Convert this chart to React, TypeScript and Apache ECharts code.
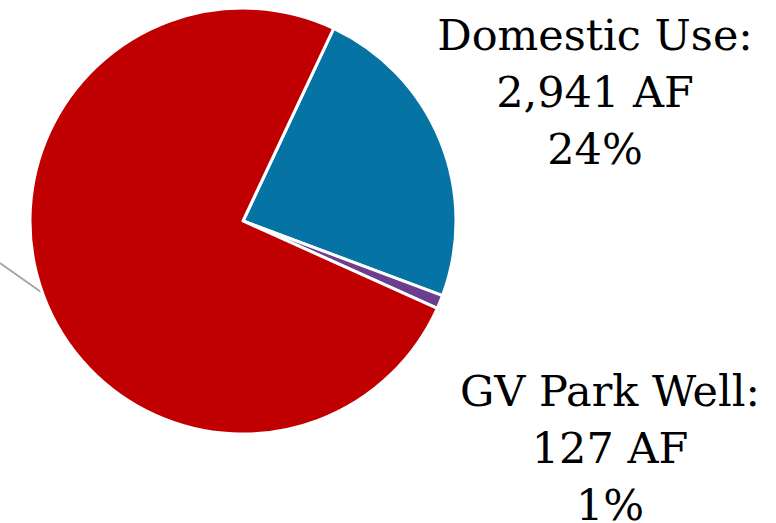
import React, { useEffect, useRef } from "react";
import * as echarts from "echarts";

const categories = ["Domestic Use", "GV Park Well", "Other"];
const values = [2941, 127, 9344];
const colors = ["#0673A5", "#6B3E8F", "#C00000"];
const labelCenters = [
  [595, 92],
  [610, 448],
  null,
];

export default function App() {
  const ref = useRef<HTMLDivElement>(null);
  useEffect(() => {
    document.body.style.margin = "0";
    const chart = echarts.init(ref.current!, null, { renderer: "svg" });
    chart.setOption({
      animation: false,
      backgroundColor: "#ffffff",
      graphic: [
        {
          type: "line",
          shape: { x1: 0, y1: 263, x2: 41, y2: 292 },
          style: { stroke: "#A6A6A6", lineWidth: 2 },
        },
      ],
      series: [
        {
          type: "pie",
          center: [243, 221],
          radius: [0, 213],
          startAngle: 64.8,
          clockwise: true,
          itemStyle: { borderColor: "#ffffff", borderWidth: 3 },
          label: {
            show: true,
            position: "inside",
            overflow: "none",
            fontFamily: "DejaVu Serif",
            fontSize: 43,
            lineHeight: 57,
            color: "#000000",
            align: "center",
            formatter: (p: any) =>
              `${p.name}:\n${p.value.toLocaleString("en-US")} AF\n${Math.round(p.percent)}%`,
          },
          labelLine: { show: false },
          labelLayout: (p: any) => {
            const c = labelCenters[p.dataIndex];
            if (!c) return {};
            return { x: c[0], y: c[1], align: "center", verticalAlign: "middle" };
          },
          data: categories.map((name, i) => ({
            name,
            value: values[i],
            itemStyle: { color: colors[i] },
            label: { show: labelCenters[i] !== null },
          })),
        },
      ],
    });
    return () => chart.dispose();
  }, []);
  return <div ref={ref} style={{ width: 776, height: 523 }} />;
}
